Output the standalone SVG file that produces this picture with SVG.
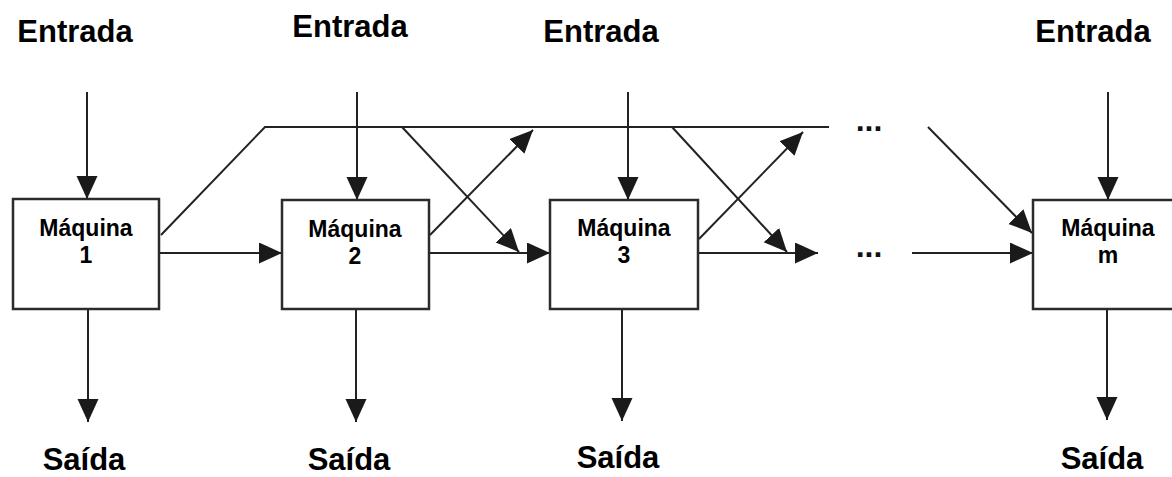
<svg xmlns="http://www.w3.org/2000/svg" width="1172" height="477" viewBox="0 0 1172 477">
<style>
.box{fill:#fff;stroke:#2b2b2b;stroke-width:2.5}
.lbl{font-family:"Liberation Sans",Arial,sans-serif;font-weight:bold;font-size:31px;fill:#000;text-anchor:middle}
.bt{font-family:"Liberation Sans",Arial,sans-serif;font-weight:bold;font-size:23px;fill:#000;text-anchor:middle}
.dots{font-family:"Liberation Sans",Arial,sans-serif;font-weight:bold;font-size:32px;fill:#111;text-anchor:middle}
.ln{fill:none;stroke:#222;stroke-width:2}
.arr{fill:none;stroke:#222;stroke-width:2;marker-end:url(#ah)}
</style>
<defs>
<marker id="ah" markerUnits="userSpaceOnUse" markerWidth="24" markerHeight="22" refX="23" refY="10.5" orient="auto">
<path d="M0,0 L23,10.5 L0,21 z" fill="#1a1a1a"/>
</marker>
</defs>
<rect width="1172" height="477" fill="#fff"/>
<g id="labels">
<text class="lbl" x="75" y="42">Entrada</text>
<text class="lbl" x="350" y="37">Entrada</text>
<text class="lbl" x="601" y="42">Entrada</text>
<text class="lbl" x="1093" y="42">Entrada</text>
<text class="lbl" x="84" y="470">Saída</text>
<text class="lbl" x="349" y="470">Saída</text>
<text class="lbl" x="618" y="468">Saída</text>
<text class="lbl" x="1102" y="469">Saída</text>
<text class="dots" x="869" y="131">...</text>
<text class="dots" x="869" y="257">...</text>
</g>
<g id="connectors">
<line class="arr" x1="87" y1="92" x2="87" y2="199"/>
<line class="arr" x1="357" y1="92" x2="357" y2="200"/>
<line class="arr" x1="628" y1="92" x2="628" y2="200"/>
<line class="arr" x1="1108" y1="92" x2="1108" y2="200"/>
<line class="arr" x1="88" y1="309" x2="88" y2="422"/>
<line class="arr" x1="356" y1="309" x2="356" y2="422"/>
<line class="arr" x1="622" y1="309" x2="622" y2="421"/>
<line class="arr" x1="1107" y1="309" x2="1107" y2="420"/>
<polyline class="ln" points="161,235 265,127 829,127"/>
<line class="arr" x1="159" y1="253" x2="282" y2="253"/>
<line class="arr" x1="429" y1="253" x2="550" y2="253"/>
<line class="arr" x1="698" y1="253" x2="818" y2="253"/>
<line class="arr" x1="912" y1="253" x2="1033" y2="253"/>
<line class="arr" x1="402" y1="127" x2="519" y2="252"/>
<line class="arr" x1="672" y1="127" x2="787" y2="252"/>
<line class="arr" x1="430" y1="235" x2="533" y2="130"/>
<line class="arr" x1="699" y1="239" x2="803" y2="132"/>
<line class="arr" x1="928" y1="127" x2="1032" y2="233"/>
</g>
<g id="m1">
<rect class="box" x="13" y="199" width="146" height="110"/>
<text class="bt" x="86" y="236">Máquina</text>
<text class="bt" x="86" y="263">1</text>
</g>
<g id="m2">
<rect class="box" x="282" y="200" width="147" height="109"/>
<text class="bt" x="355" y="237">Máquina</text>
<text class="bt" x="355" y="264">2</text>
</g>
<g id="m3">
<rect class="box" x="550" y="200" width="148" height="109"/>
<text class="bt" x="624" y="236">Máquina</text>
<text class="bt" x="624" y="263">3</text>
</g>
<g id="mm">
<rect class="box" x="1033" y="200" width="150" height="109"/>
<text class="bt" x="1108" y="236">Máquina</text>
<text class="bt" x="1108" y="263">m</text>
</g>
</svg>
